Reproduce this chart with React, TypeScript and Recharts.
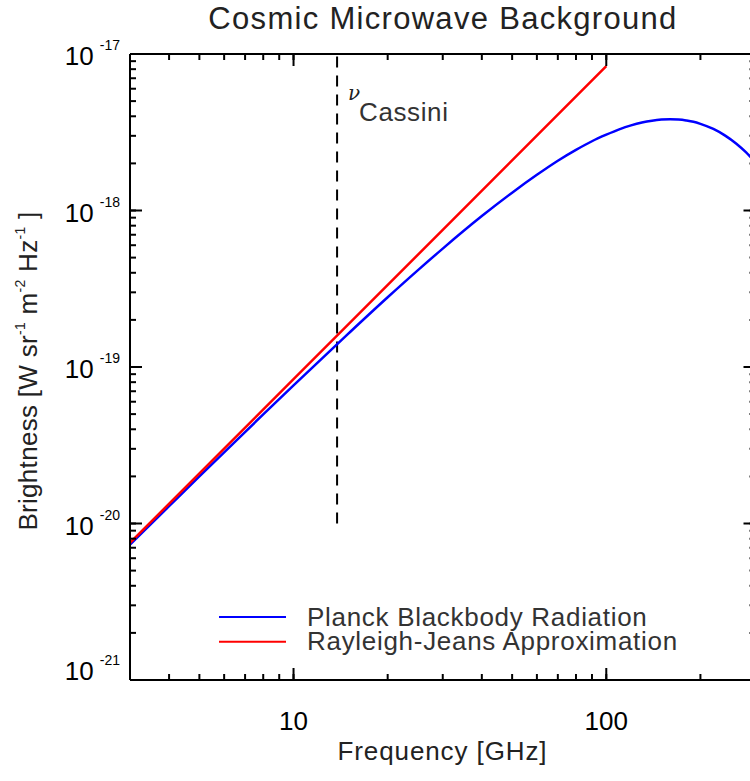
import { Legend, Line, LineChart, ReferenceLine, XAxis, YAxis } from 'recharts';

// Planck curve for T = 2.725 K, brightness in W sr^-1 m^-2 Hz^-1
const planckFreq = [3, 4, 5, 6, 8, 10, 15, 20, 25, 30, 40, 50, 60, 70, 80, 90, 100, 110, 120, 130, 140, 150, 160, 170, 180, 190, 200, 220, 240, 260, 280, 300];
const planckBrightness = [
  7.32e-21, 1.29e-20, 2.0e-20, 2.85e-20, 4.98e-20, 7.64e-20, 1.64e-19, 2.79e-19, 4.16e-19, 5.71e-19, 9.21e-19, 1.3e-18, 1.69e-18,
  2.08e-18, 2.44e-18, 2.77e-18, 3.05e-18, 3.3e-18, 3.5e-18, 3.65e-18, 3.75e-18, 3.81e-18, 3.83e-18, 3.81e-18, 3.76e-18, 3.69e-18,
  3.58e-18, 3.32e-18, 3.01e-18, 2.68e-18, 2.35e-18, 2.03e-18,
];

// Rayleigh-Jeans approximation (straight line on log-log)
const rjFreq = [3, 10, 30, 100];
const rjBrightness = [7.52e-21, 8.36e-20, 7.52e-19, 8.36e-18];

// Cassini radar frequency marker
const cassiniFreq = 13.78;
const cassiniRange = [1e-20, 1e-17];

const xMajor = [10, 100];
const xLabels = ['10', '100'];
const xMinor = [4, 5, 6, 7, 8, 9, 20, 30, 40, 50, 60, 70, 80, 90, 200];
const yMajor = [1e-21, 1e-20, 1e-19, 1e-18, 1e-17];
const yLabels = ['-21', '-20', '-19', '-18', '-17'];
const yMinor = yMajor.slice(0, -1).flatMap((d) => [2, 3, 4, 5, 6, 7, 8, 9].map((m) => m * d));

const planckData = planckFreq.map((f, i) => ({ f, b: planckBrightness[i] }));
const rjData = rjFreq.map((f, i) => ({ f, b: rjBrightness[i] }));

const FONT = '"Liberation Sans", Arial, Helvetica, sans-serif';
const W = 760;
const H = 781;
// every axis is 1px thick, so the plot box ends up at 130..755.5 x 54..680
const M = { top: 53, right: 3.5, bottom: 100, left: 129 };

// minor ticks come from the axis itself (negative size = pointing into the plot),
// the tick components only stretch the decade ticks to full length
const MINOR = 6;
const MAJOR = 12;
const tickStroke = { stroke: '#000', strokeWidth: 2 };

const BottomTick = (props: any) => {
  const { x, y, payload } = props;
  const base = Number(y) + MINOR;
  const i = xMajor.indexOf(payload.value);
  if (i < 0) return null;
  return (
    <g>
      <line x1={x} y1={base} x2={x} y2={base - MAJOR} {...tickStroke} />
      <text x={x} y={base + 50} textAnchor="middle" fontSize={26} fontFamily={FONT} fill="#000">
        {xLabels[i]}
      </text>
    </g>
  );
};

const TopTick = (props: any) => {
  const { x, y, payload } = props;
  const base = Number(y) - MINOR;
  if (!xMajor.includes(payload.value)) return null;
  return <line x1={x} y1={base} x2={x} y2={base + MAJOR} {...tickStroke} />;
};

const LeftTick = (props: any) => {
  const { x, y, payload } = props;
  const base = Number(x) - MINOR;
  const i = yMajor.indexOf(payload.value);
  if (i < 0) return null;
  return (
    <g>
      <line x1={base} y1={y} x2={base + MAJOR} y2={y} {...tickStroke} />
      <text x={base - 10} y={Number(y) + (i === 0 ? 0 : 11)} textAnchor="end" fontSize={26} fontFamily={FONT} fill="#000">
        10
        <tspan dx={6} dy={-15} fontSize={14}>
          {yLabels[i]}
        </tspan>
      </text>
    </g>
  );
};

const RightTick = (props: any) => {
  const { x, y, payload } = props;
  const base = Number(x) + MINOR;
  if (!yMajor.includes(payload.value)) return null;
  return <line x1={base} y1={y} x2={base - MAJOR} y2={y} {...tickStroke} />;
};

const CassiniLabel = (props: any) => {
  const { x, y } = props.viewBox;
  return (
    <g>
      <text x={x + 11} y={y + 46} fontSize={20} fontStyle="italic" fontFamily="'DejaVu Serif', serif" fill="#222">
        ν
      </text>
      <text x={x + 22} y={y + 67} fontSize={26} letterSpacing={0.6} fontFamily={FONT} fill="#333">
        Cassini
      </text>
    </g>
  );
};

const LegendBox = (props: any) => {
  const items = (props.payload || []).filter((p: any) => p.type !== 'none');
  return (
    <svg width={480} height={60}>
      {items.map((p: any, i: number) => (
        <g key={p.value}>
          <line x1={19} x2={86} y1={19 + i * 24.7} y2={19 + i * 24.7} stroke={p.color} strokeWidth={2} />
          <text x={107} y={28 + i * 24} fontSize={26} letterSpacing={0.7} fontFamily={FONT} fill="#333">
            {p.value}
          </text>
        </g>
      ))}
    </svg>
  );
};

const axisLine = { stroke: '#000', strokeWidth: 2 };
const xAxisCommon = {
  dataKey: 'f',
  type: 'number' as const,
  scale: 'log' as const,
  domain: [3, 300],
  allowDataOverflow: true,
  ticks: [...xMajor, ...xMinor],
  interval: 0,
  height: 1,
  tickSize: -MINOR,
  tickMargin: 0,
  tickLine: tickStroke,
  axisLine,
};
const yAxisCommon = {
  type: 'number' as const,
  scale: 'log' as const,
  domain: [1e-21, 1e-17],
  allowDataOverflow: true,
  ticks: [...yMajor, ...yMinor],
  interval: 0,
  width: 1,
  tickSize: -MINOR,
  tickMargin: 0,
  tickLine: tickStroke,
  axisLine,
};

const App = () => (
  <div style={{ position: 'fixed', left: 0, top: 0, width: 750, height: 781, overflow: 'hidden', background: '#fff' }}>
    <LineChart width={W} height={H} margin={M}>
      <text x={443} y={29} textAnchor="middle" fontSize={31} letterSpacing={1.3} fontFamily={FONT} fill="#222">
        Cosmic Microwave Background
      </text>
      <text x={442.5} y={760} textAnchor="middle" fontSize={26} letterSpacing={0.9} fontFamily={FONT} fill="#222">
        Frequency [GHz]
      </text>
      <text transform="translate(37, 371) rotate(-90)" textAnchor="middle" fontSize={26} letterSpacing={0.3} fontFamily={FONT} fill="#222">
        Brightness [W sr
        <tspan dy={-12} fontSize={14}>
          -1
        </tspan>
        <tspan dy={12}> m</tspan>
        <tspan dy={-12} fontSize={14}>
          -2
        </tspan>
        <tspan dy={12}> Hz</tspan>
        <tspan dy={-12} fontSize={14}>
          -1
        </tspan>
        <tspan dy={12}> ]</tspan>
      </text>

      <XAxis {...xAxisCommon} tick={<BottomTick />} />
      <XAxis {...xAxisCommon} xAxisId="top" orientation="top" tick={<TopTick />} />
      <YAxis {...yAxisCommon} tick={<LeftTick />} />
      <YAxis {...yAxisCommon} yAxisId="right" orientation="right" tick={<RightTick />} />

      <ReferenceLine
        segment={[
          { x: cassiniFreq, y: cassiniRange[0] },
          { x: cassiniFreq, y: cassiniRange[1] },
        ]}
        stroke="#000"
        strokeWidth={2}
        strokeDasharray="11 8"
        label={<CassiniLabel />}
      />

      <Line
        data={planckData}
        dataKey="b"
        name="Planck Blackbody Radiation"
        type="monotone"
        stroke="#0000ff"
        strokeWidth={2.5}
        dot={false}
        activeDot={false}
        isAnimationActive={false}
      />
      <Line
        data={rjData}
        dataKey="b"
        name="Rayleigh-Jeans Approximation"
        type="linear"
        stroke="#ff0000"
        strokeWidth={2.5}
        dot={false}
        activeDot={false}
        isAnimationActive={false}
      />
      {/* middle/center alignment keeps the legend from shrinking the plot box */}
      <Legend
        layout="horizontal"
        verticalAlign="middle"
        align="center"
        content={<LegendBox />}
        wrapperStyle={{ position: 'absolute', left: 200, top: 598, width: 480, height: 60 }}
      />
    </LineChart>
  </div>
);

export default App;
